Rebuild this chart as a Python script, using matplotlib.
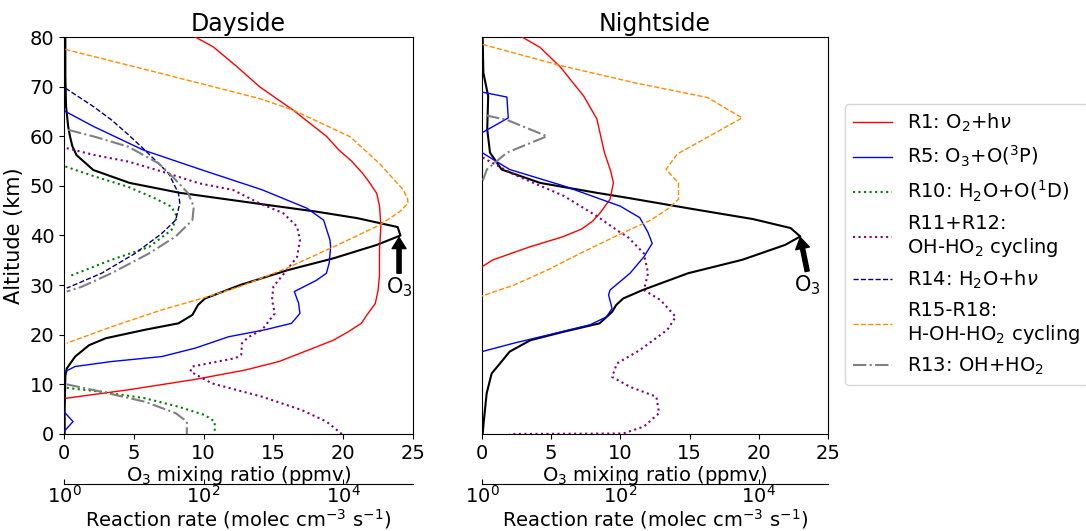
import numpy as np
import matplotlib
matplotlib.use("Agg")
import matplotlib.pyplot as plt

# ---- dayside: O3 profile (ppmv) and reaction rates (log10 molec cm-3 s-1)
day_o3_alt = [80, 72, 66, 62, 60, 58, 56.2, 53.2, 50.6, 48.6, 46.3, 44.8, 43.5, 41.7, 40.0,
              38.1, 35.4, 33.0, 30.0, 27.3, 26.0, 24.0, 22.3, 21.0, 19.3, 17.9, 15.6, 13.2,
              11.7, 5.0, 0.0]
day_o3 = [0.1, 0.1, 0.15, 0.3, 0.43, 0.6, 0.9, 2.1, 4.7, 8.3, 14.2, 18.1, 21.0, 23.9, 24.1,
          22.4, 19.3, 16.0, 12.6, 10.1, 9.6, 9.2, 8.2, 5.8, 3.0, 1.8, 0.8, 0.2, 0.1, 0.05, 0.05]

day_r1_alt = [80, 78, 74, 70, 65.3, 60, 57.2, 55, 52.5, 50.6, 48.5, 46, 42, 37, 32, 29, 26.3,
              24, 22.3, 20.5, 18.9, 16.8, 14.6, 12.9, 11.0, 8.9, 7.2]
day_r1 = [1.88, 2.14, 2.48, 2.80, 3.28, 3.76, 3.94, 4.12, 4.28, 4.38, 4.48, 4.52, 4.54, 4.52,
          4.52, 4.50, 4.46, 4.34, 4.26, 4.06, 3.86, 3.48, 3.08, 2.60, 1.88, 0.92, 0.03]

day_r5_alt = [65, 62, 57.2, 53.2, 49.2, 45.5, 44.5, 43.1, 39.1, 37.7, 34.5, 32.4, 31.0, 28.7,
              26.4, 24.3, 22.3, 21.0, 19.6, 17.3, 15.6, 14.6, 13.6, 12.6, np.nan, 4.5, 2.5, 0.5]
day_r5 = [0.02, 0.42, 1.14, 1.98, 2.84, 3.48, 3.58, 3.72, 3.81, 3.82, 3.80, 3.76, 3.62, 3.30,
          3.36, 3.38, 3.26, 2.88, 2.36, 1.88, 1.40, 0.68, 0.16, 0.02, np.nan, 0.0, 0.13, 0.0]

day_r10_alt = [53.9, 51.9, 49.8, 47.5, 45.8, 43.8, 41.1, 37.7, 35.1, 31.7, np.nan,
               9.3, 8.5, 7.2, 5.5, 3.8, 2.5, 0.0]
day_r10 = [0.02, 0.44, 0.92, 1.30, 1.54, 1.62, 1.54, 1.22, 0.68, 0.06, np.nan,
           0.04, 0.54, 1.16, 1.64, 2.02, 2.16, 2.16]

day_r11_alt = [57.6, 56.2, 54.9, 52.9, 50.5, 49.2, 46.5, 44.5, 41.8, 39.1, 35.7, 33.0, 29.7,
               27.0, 24.3, 22.5, 21.0, 19.5, 18.3, 16.0, 15.3, 13.6, 12.6, 10.2, 7.5, 4.8,
               2.5, 0.0]
day_r11 = [0.04, 0.44, 0.92, 1.40, 1.94, 2.42, 2.80, 3.14, 3.34, 3.38, 3.34, 3.19, 3.00, 2.98,
           3.02, 2.92, 2.84, 2.64, 2.55, 2.54, 2.46, 1.84, 1.81, 2.12, 2.84, 3.41, 3.76, 3.98]

day_r14_alt = [69.7, 66, 63.3, 60.6, 57.2, 52.5, 48.5, 46.5, 43.1, 40.4, 36.4, 32.4, 29.4]
day_r14 = [0.02, 0.42, 0.68, 0.90, 1.16, 1.50, 1.64, 1.66, 1.60, 1.40, 1.02, 0.54, 0.04]

day_r15_alt = [77.5, 72.7, 67.6, 65.3, 59.9, 54.5, 49.2, 47.5, 46.5, 44.8, 42.1, 37.7, 33.4,
               29.7, 27.5, 25.0, 21.6, 18.3]
day_r15 = [0.02, 1.38, 2.80, 3.28, 4.10, 4.52, 4.86, 4.92, 4.93, 4.81, 4.52, 3.86, 3.19,
           2.52, 2.02, 1.40, 0.68, 0.04]

day_r13_alt = [61.3, 59.9, 57.9, 54.5, 51.2, 48.5, 45.8, 43.1, 39.8, 36.4, 32.4, 29.7, 28.7,
               np.nan, 10.0, 8.5, 6.5, 4.2, 2.5, 0.0]
day_r13 = [0.06, 0.44, 0.92, 1.36, 1.60, 1.78, 1.86, 1.84, 1.60, 1.22, 0.68, 0.26, 0.04,
           np.nan, 0.04, 0.54, 1.16, 1.60, 1.76, 1.76]

# ---- nightside
night_o3_alt = [80, 72.8, 68.1, 61.4, 56.7, 53.3, 50.6, 48.6, 47.6, 45.3, 43.3, 41.5, 39.8,
                38.1, 35.1, 32.4, 29.0, 27.3, 26.0, 24.6, 22.3, 20.6, 18.9, 16.6, 14.2, 12.2,
                8.2, 2.8, 0.0]
night_o3 = [0.05, 0.1, 0.45, 0.38, 0.58, 1.42, 4.2, 8.3, 10.5, 15.3, 19.6, 22.3, 23.0, 21.9,
            18.8, 14.9, 11.6, 10.2, 9.7, 9.4, 8.5, 5.9, 3.5, 2.0, 1.3, 0.7, 0.34, 0.14, 0.05]

night_r1_alt = [80, 77.9, 74.0, 68.1, 63.5, 56.7, 53.0, 50.6, 47.3, 44.6, 42.9, 41.3, 39.8,
                37.7, 35.1, 33.7]
night_r1 = [0.58, 0.84, 1.13, 1.47, 1.66, 1.77, 1.86, 1.90, 1.85, 1.71, 1.60, 1.44, 1.18,
            0.69, 0.16, 0.0]

night_r5_alt = [68.9, 67.9, 63.7, 60.7, np.nan, 56.7, 53.3, 50.0, 45.9, 43.6, 40.6, 38.4, 35.7,
                32.4, 29.0, 28.0, 25.3, 23.6, 22.0, 19.9, 18.3, 16.6]
night_r5 = [0.0, 0.36, 0.38, 0.0, np.nan, 0.0, 0.40, 1.18, 2.00, 2.28, 2.40, 2.46, 2.34,
            2.14, 1.85, 1.83, 1.88, 1.80, 1.56, 0.94, 0.46, 0.0]

night_r11_alt = [55.7, 52.3, 48.0, 43.9, 40.6, 39.8, 36.4, 32.4, 29.0, 27.0, 23.6, 21.0, 16.9,
                 14.2, 11.5, 9.5, 7.5, 4.2, 1.5, 0.1, 0.0]
night_r11 = [0.01, 0.46, 1.18, 1.66, 2.00, 2.10, 2.34, 2.40, 2.34, 2.58, 2.80, 2.68, 2.28,
             1.95, 1.88, 2.14, 2.52, 2.56, 2.34, 2.04, 0.40]

night_r15_alt = [78.5, 74.3, 70.8, 67.8, 63.7, 56.4, 53.3, 50.6, 47.3, 45.3, 43.1, 40.3, 36.4,
                 33.0, 30.0, 27.8]
night_r15 = [0.01, 1.12, 2.20, 3.26, 3.76, 2.82, 2.66, 2.84, 2.84, 2.68, 2.44, 2.00, 1.42,
             0.94, 0.46, 0.0]

night_r13_alt = [64.2, 63.3, 60.0, 56.7, 53.3, 50.6]
night_r13 = [0.06, 0.36, 0.94, 0.36, 0.07, 0.0]

LABELS = ["R1: O$_2$+h$\\nu$", "R5: O$_3$+O($^3$P)", "R10: H$_2$O+O($^1$D)",
          "R11+R12:\nOH-HO$_2$ cycling", "R14: H$_2$O+h$\\nu$",
          "R15-R18:\nH-OH-HO$_2$ cycling", "R13: OH+HO$_2$"]
STYLES = [dict(color="red", ls="-", lw=1.0),
          dict(color="blue", ls="-", lw=1.0),
          dict(color="green", ls=":", lw=1.5),
          dict(color="purple", ls=":", lw=1.5),
          dict(color="navy", ls="--", lw=1.0),
          dict(color="darkorange", ls="--", lw=1.0),
          dict(color="gray", ls="-.", lw=1.5)]

plt.rcParams["font.size"] = 14

fig = plt.figure(figsize=(10.86, 5.31), dpi=100)


def panel(rect, title, o3_alt, o3, rates, arrow_xy, text_xy, left=True):
    ax = fig.add_axes(rect)
    ax.plot(o3, o3_alt, color="black", lw=1.5)
    ax.set_xlim(0, 25)
    ax.set_ylim(0, 80)
    ax.set_xticks(range(0, 26, 5))
    ax.set_xlabel("O$_3$ mixing ratio (ppmv)", labelpad=1)
    ax.set_title(title, fontsize=17, pad=4)
    if left:
        ax.set_yticks(range(0, 81, 10))
        ax.set_ylabel("Altitude (km)", fontsize=15)
    else:
        ax.tick_params(left=False, labelleft=False)
    ax.annotate("", xy=arrow_xy, xytext=(text_xy[0], text_xy[1] + 2.8),
                arrowprops=dict(facecolor="black", edgecolor="black", width=3,
                                headwidth=10, headlength=8, shrink=0.0))
    ax.text(text_xy[0], text_xy[1], "O$_3$", ha="center", va="center", fontsize=15)

    # secondary log axis for the reaction rates, drawn below the ppmv axis
    ax2 = ax.twiny()
    ax2.set_xscale("log")
    ax2.set_xlim(1, 1e5)
    ax2.xaxis.set_ticks_position("bottom")
    ax2.xaxis.set_label_position("bottom")
    ax2.spines["bottom"].set_position(("outward", 36))
    for s in ("top", "left", "right"):
        ax2.spines[s].set_visible(False)
    ax2.set_xticks([1, 1e2, 1e4])
    ax2.minorticks_off()
    ax2.tick_params(axis="x", direction="in", pad=1)
    ax2.set_xlabel("Reaction rate (molec cm$^{-3}$ s$^{-1}$)", labelpad=0)
    handles = []
    for (alt, lg), st in zip(rates, STYLES):
        if alt is None:
            handles.append(plt.Line2D([], [], **st))
            continue
        h, = ax2.plot(10 ** np.array(lg), alt, **st)
        handles.append(h)
    ax2.set_ylim(0, 80)
    return handles


day_rates = [(day_r1_alt, day_r1), (day_r5_alt, day_r5), (day_r10_alt, day_r10),
             (day_r11_alt, day_r11), (day_r14_alt, day_r14), (day_r15_alt, day_r15),
             (day_r13_alt, day_r13)]
night_rates = [(night_r1_alt, night_r1), (night_r5_alt, night_r5), (None, None),
               (night_r11_alt, night_r11), (None, None), (night_r15_alt, night_r15),
               (night_r13_alt, night_r13)]

handles = panel([0.0589, 0.1827, 0.3214, 0.7476], "Dayside", day_o3_alt, day_o3,
                day_rates, (24.0, 39.6), (24.0, 29.6))
panel([0.4438, 0.1827, 0.3186, 0.7476], "Nightside", night_o3_alt, night_o3,
      night_rates, (23.0, 39.6), (23.5, 30.0), left=False)

fig.legend(handles, LABELS, loc="upper left", bbox_to_anchor=(845 / 1086, 1 - 104 / 531),
           borderaxespad=0, fontsize=14, handlelength=2.0)

fig.savefig("out.png", dpi=100)
